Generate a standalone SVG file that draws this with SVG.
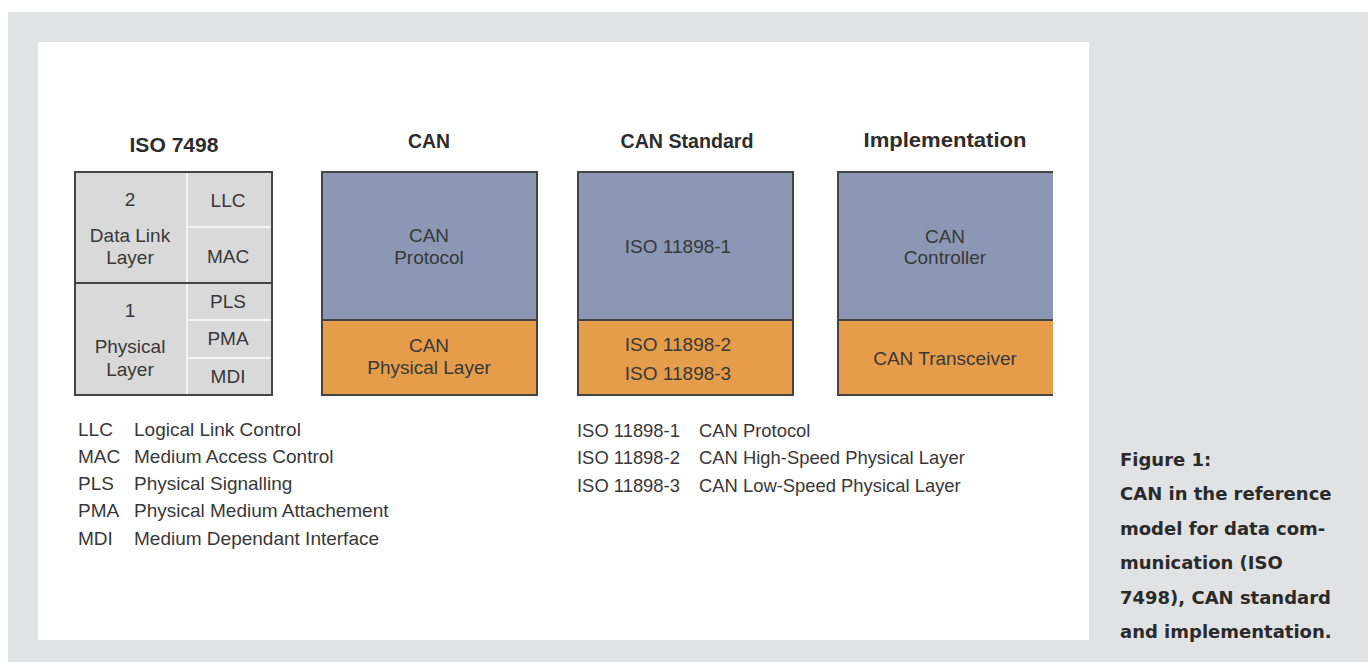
<svg xmlns="http://www.w3.org/2000/svg" width="1368" height="662" viewBox="0 0 1368 662">
<style>
.t{font-family:"Liberation Sans",Arial,sans-serif;font-size:19px;fill:#383838}
.s{font-size:18.4px}
.c{text-anchor:middle}
.h{font-family:"Liberation Sans",Arial,sans-serif;font-size:21px;font-weight:bold;fill:#2c2c2c;text-anchor:middle}
.cap{font-family:"DejaVu Sans",sans-serif;font-size:18px;font-weight:bold;fill:#2a2a2a}
.blue{fill:#8b97b4}
.orange{fill:#e69d4b}
.cell{fill:#d9d9da}
.bd{fill:none;stroke:#444;stroke-width:2}
.wl{stroke:#f4f4f4;stroke-width:2}
.dl{stroke:#444;stroke-width:2}
</style>
<rect x="0" y="0" width="1368" height="662" fill="#ffffff"/>
<rect x="8" y="12" width="1360" height="650" fill="#e1e2e4"/>
<rect x="38" y="42" width="1051" height="598" fill="#ffffff"/>

<g id="iso7498">
<text class="h" x="174" y="152" textLength="89" lengthAdjust="spacingAndGlyphs">ISO 7498</text>
<rect class="cell" x="75" y="172" width="197" height="223"/>
<line class="wl" x1="187" y1="173" x2="187" y2="394"/>
<line class="wl" x1="188" y1="227" x2="271" y2="227"/>
<line class="wl" x1="188" y1="320" x2="271" y2="320"/>
<line class="wl" x1="188" y1="358" x2="271" y2="358"/>
<line class="dl" x1="75" y1="283" x2="272" y2="283"/>
<rect class="bd" x="75" y="172" width="197" height="223"/>
<text class="t c" x="130" y="206">2</text>
<text class="t c" x="130" y="242">Data Link</text>
<text class="t c" x="130" y="264">Layer</text>
<text class="t c" x="228" y="207">LLC</text>
<text class="t c" x="228" y="263">MAC</text>
<text class="t c" x="130" y="317">1</text>
<text class="t c" x="130" y="353">Physical</text>
<text class="t c" x="130" y="376">Layer</text>
<text class="t c" x="228" y="308">PLS</text>
<text class="t c" x="228" y="345">PMA</text>
<text class="t c" x="228" y="383">MDI</text>
</g>

<g id="can">
<text class="h" x="429" y="148" textLength="42" lengthAdjust="spacingAndGlyphs">CAN</text>
<rect class="blue" x="322" y="172" width="215" height="148"/>
<rect class="orange" x="322" y="320" width="215" height="75"/>
<line class="dl" x1="322" y1="320" x2="537" y2="320"/>
<rect class="bd" x="322" y="172" width="215" height="223"/>
<text class="t c" x="429" y="242">CAN</text>
<text class="t c" x="429" y="264">Protocol</text>
<text class="t c" x="429" y="352">CAN</text>
<text class="t c" x="429" y="374">Physical Layer</text>
</g>

<g id="can-standard">
<text class="h" x="687" y="148" textLength="133" lengthAdjust="spacingAndGlyphs">CAN Standard</text>
<rect class="blue" x="578" y="172" width="215" height="148"/>
<rect class="orange" x="578" y="320" width="215" height="75"/>
<line class="dl" x1="578" y1="320" x2="793" y2="320"/>
<rect class="bd" x="578" y="172" width="215" height="223"/>
<text class="t c" x="678" y="253">ISO 11898-1</text>
<text class="t c" x="678" y="351">ISO 11898-2</text>
<text class="t c" x="678" y="380">ISO 11898-3</text>
</g>

<g id="implementation">
<text class="h" x="945" y="147" textLength="163" lengthAdjust="spacingAndGlyphs">Implementation</text>
<rect class="blue" x="838" y="172" width="215" height="148"/>
<rect class="orange" x="838" y="320" width="215" height="75"/>
<line class="dl" x1="838" y1="320" x2="1053" y2="320"/>
<polyline fill="none" stroke="#444" stroke-width="2" points="1053,172 838,172 838,395 1053,395"/>
<text class="t c" x="945" y="243">CAN</text>
<text class="t c" x="945" y="264">Controller</text>
<text class="t c" x="945" y="365">CAN Transceiver</text>
</g>

<g id="legend-iso">
<text class="t" x="78" y="436">LLC</text><text class="t" x="134" y="436">Logical Link Control</text>
<text class="t" x="78" y="463">MAC</text><text class="t" x="134" y="463">Medium Access Control</text>
<text class="t" x="78" y="490">PLS</text><text class="t" x="134" y="490">Physical Signalling</text>
<text class="t" x="78" y="517">PMA</text><text class="t" x="134" y="517">Physical Medium Attachement</text>
<text class="t" x="78" y="545">MDI</text><text class="t" x="134" y="545">Medium Dependant Interface</text>
</g>

<g id="legend-can">
<text class="t s" x="577" y="437">ISO 11898-1</text><text class="t s" x="699" y="437">CAN Protocol</text>
<text class="t s" x="577" y="464">ISO 11898-2</text><text class="t s" x="699" y="464">CAN High-Speed Physical Layer</text>
<text class="t s" x="577" y="492">ISO 11898-3</text><text class="t s" x="699" y="492">CAN Low-Speed Physical Layer</text>
</g>

<g id="caption">
<text class="cap" x="1120" y="466">Figure 1:</text>
<text class="cap" x="1120" y="500">CAN in the reference</text>
<text class="cap" x="1120" y="535">model for data com-</text>
<text class="cap" x="1120" y="569">munication (ISO</text>
<text class="cap" x="1120" y="604">7498), CAN standard</text>
<text class="cap" x="1120" y="638">and implementation.</text>
</g>

<g id="connectors"></g>
</svg>
